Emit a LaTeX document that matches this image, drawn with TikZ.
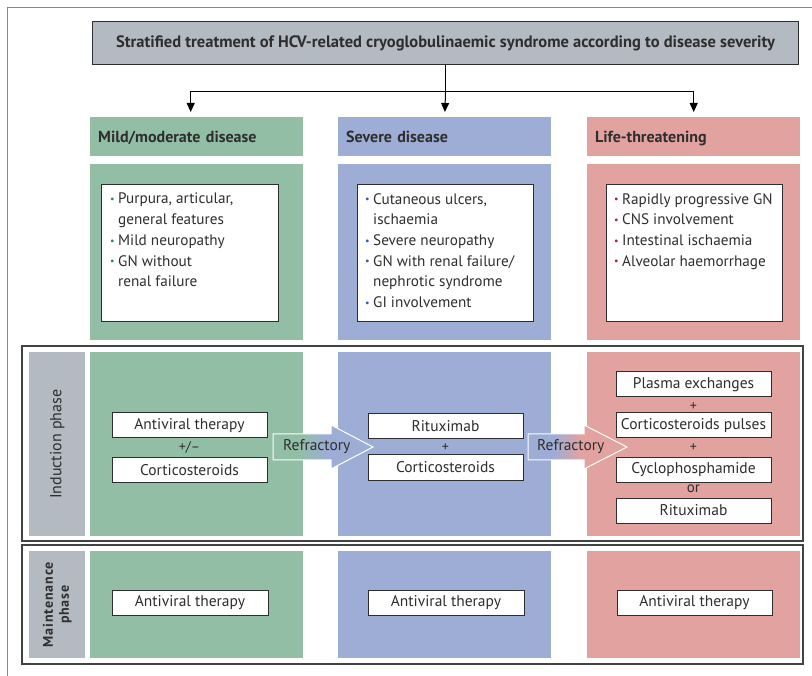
\documentclass[tikz,border=0pt]{standalone}
\usepackage{fontspec}
\setmainfont{PT Sans}
\usetikzlibrary{arrows.meta,calc}
\definecolor{cg}{HTML}{93BEA6}
\definecolor{cb}{HTML}{9DADD5}
\definecolor{cr}{HTML}{E2A3A0}
\definecolor{cgray}{HTML}{B3BAC1}
\definecolor{frameg}{HTML}{4FA67C}
\definecolor{txt}{HTML}{2E2E2E}
\definecolor{bgr}{HTML}{2E8B57}
\definecolor{bbl}{HTML}{2F5FA8}
\definecolor{brd}{HTML}{C0163A}
\pgfdeclarehorizontalshading{gtob}{100bp}{color(0bp)=(cg); color(38bp)=(cg); color(52bp)=(cb); color(100bp)=(cb)}
\pgfdeclarehorizontalshading{btor}{100bp}{color(0bp)=(cb); color(38bp)=(cb); color(52bp)=(cr); color(100bp)=(cr)}
\newcommand\bl[1]{\makebox[8pt][l]{\textcolor{#1}{\raisebox{0.15ex}{\fontsize{10}{10}\selectfont\textbullet}}}}
\newcommand\ind{\hspace*{8pt}}
\begin{document}
\begin{tikzpicture}[x=1pt,y=-1pt,
  every node/.style={text=txt},
  panel/.style={anchor=north west,inner sep=0,minimum width=213pt},
  hdr/.style={panel,minimum height=39pt,font=\fontsize{16}{18}\selectfont\bfseries,text width=197pt,align=left,text depth=0pt},
  symbox/.style={anchor=north west,draw=txt,line width=1pt,fill=white,inner sep=0},
  symtext/.style={anchor=north west,inner sep=0,align=left,font=\fontsize{15.2}{20.7}\selectfont},
  tbox/.style={draw=txt,line width=1pt,fill=white,inner sep=0,minimum width=155pt,minimum height=25pt,font=\fontsize{15.5}{17}\selectfont},
  small/.style={inner sep=0,font=\fontsize{14}{14}\selectfont},
  frm/.style={draw=txt!90,line width=1.1pt},
  conn/.style={line width=1pt,draw=black,-{Triangle[width=8pt,length=9pt]},shorten >=5pt},
  refr/.style={draw=white,line width=1pt}
]
\useasboundingbox (0,0) rectangle (812,676);
\fill[white] (0,0) rectangle (812,676);
% outer green border
\draw[frameg,line width=1pt] (7,676) -- (7,8) -- (812,8);

% title
\node[anchor=north west,minimum width=706pt,minimum height=43pt,inner sep=0,fill=cgray,draw=txt,line width=1.1pt] (title) at (92,21) {};
\node[inner sep=0,font=\fontsize{16.5}{18}\selectfont\bfseries] (titletext) at (title.center) {Stratified treatment of HCV-related cryoglobulinaemic syndrome according to disease severity};

% headers
\node[hdr,fill=cg] (hg) at (90,117) {Mild/moderate disease};
\node[hdr,fill=cb] (hb) at (338,117) {Severe disease};
\node[hdr,fill=cr] (hr) at (587,117) {Life-threatening};

% connectors
\draw[line width=1pt] (title.south) -- ++(0,26) coordinate (j);
\draw[conn] (j) -- (hb.north);
\draw[conn] (j) -| ([xshift=-6pt]hg.north);
\draw[conn] (j) -| (hr.north);

% symptom panels
\node[panel,fill=cg,minimum height=176pt] (sg) at (90,164) {};
\node[panel,fill=cb,minimum height=176pt] (sb) at (338,164) {};
\node[panel,fill=cr,minimum height=176pt] (sr) at (587,164) {};
\node[symbox,minimum width=177pt,minimum height=137pt] (bg) at (101,184) {};
\node[symbox,minimum width=176pt,minimum height=137pt] (bb) at (357,184) {};
\node[symbox,minimum width=176pt,minimum height=137pt] (br) at (606,184) {};
\node[symtext] (tg) at (110,193) {\bl{bgr}Purpura, articular,\\ \ind general features\\ \bl{bgr}Mild neuropathy\\ \bl{bgr}GN without\\ \ind renal failure};
\node[symtext] (tb) at (365,193) {\bl{bbl}Cutaneous ulcers,\\ \ind ischaemia\\ \bl{bbl}Severe neuropathy\\ \bl{bbl}GN with renal failure/\\ \ind nephrotic syndrome\\ \bl{bbl}GI involvement};
\node[symtext] (tr) at (614,193) {\bl{brd}Rapidly progressive GN\\ \bl{brd}CNS involvement\\ \bl{brd}Intestinal ischaemia\\ \bl{brd}Alveolar haemorrhage};

% induction phase
\draw[frm] (22,346) rectangle (803,541);
\node[panel,fill=cgray,minimum width=56pt,minimum height=184pt] (lind) at (29,352) {};
\node[rotate=90,inner sep=0,font=\fontsize{16}{18}\selectfont] (lindt) at (lind.center) {Induction phase};
\node[panel,fill=cg,minimum height=184pt] (ig) at (90,352) {};
\node[panel,fill=cb,minimum height=184pt] (ib) at (338,352) {};
\node[panel,fill=cr,minimum height=184pt] (ir) at (587,352) {};

\node[tbox] (g1) at (189.5,425.5) {Antiviral therapy};
\node[small] (g2) at (189.5,447.5) {+/\textendash};
\node[tbox] (g3) at (189.5,470) {Corticosteroids};

\node[tbox] (b1) at (445.5,426.5) {Rituximab};
\node[small] (b2) at (445.5,447.5) {+};
\node[tbox] (b3) at (445.5,467.5) {Corticosteroids};

\node[tbox] (r1) at (693.5,384.5) {Plasma exchanges};
\node[small] (r2) at (693.5,406.5) {+};
\node[tbox] (r3) at (693.5,425.5) {Corticosteroids pulses};
\node[small] (r4) at (693.5,447.5) {+};
\node[tbox] (r5) at (693.5,470) {Cyclophosphamide};
\node[small,font=\fontsize{15}{15}\selectfont] (r6) at (693.5,488.5) {or};
\node[tbox] (r7) at (693.5,510.5) {Rituximab};

% refractory arrows
\shade[shading=gtob] (273,434) -- (331,434) -- (331,425) -- (373,447) -- (331,469) -- (331,460) -- (273,460) -- cycle;
\draw[refr] (273,434) -- (331,434) -- (331,425) -- (373,447) -- (331,469) -- (331,460) -- (273,460) -- cycle;
\node[anchor=west,inner sep=0,font=\fontsize{15.5}{17}\selectfont] (ref1) at (283,447) {Refractory};
\shade[shading=btor] (528,434) -- (584,434) -- (584,425) -- (627,447) -- (584,469) -- (584,460) -- (528,460) -- cycle;
\draw[refr] (528,434) -- (584,434) -- (584,425) -- (627,447) -- (584,469) -- (584,460) -- (528,460) -- cycle;
\node[anchor=west,inner sep=0,font=\fontsize{15.5}{17}\selectfont] (ref2) at (537,447) {Refractory};

% maintenance phase
\draw[frm] (22,545) rectangle (803,664);
\node[panel,fill=cgray,minimum width=56pt,minimum height=107pt] (lmain) at (29,551) {};
\node[rotate=90,inner sep=0,align=center,font=\fontsize{14}{16}\selectfont\bfseries\addfontfeature{LetterSpace=6}] (lmaint) at (lmain.center) {Maintenance\\phase};
\node[panel,fill=cg,minimum height=107pt] (mg) at (90,551) {};
\node[panel,fill=cb,minimum height=107pt] (mb) at (338,551) {};
\node[panel,fill=cr,minimum height=107pt] (mr) at (587,551) {};
\node[tbox,minimum width=156pt] (m1) at (190,603) {Antiviral therapy};
\node[tbox,minimum width=156pt] (m2) at (446,603) {Antiviral therapy};
\node[tbox,minimum width=155pt] (m3) at (694.5,603) {Antiviral therapy};
\end{tikzpicture}
\end{document}
